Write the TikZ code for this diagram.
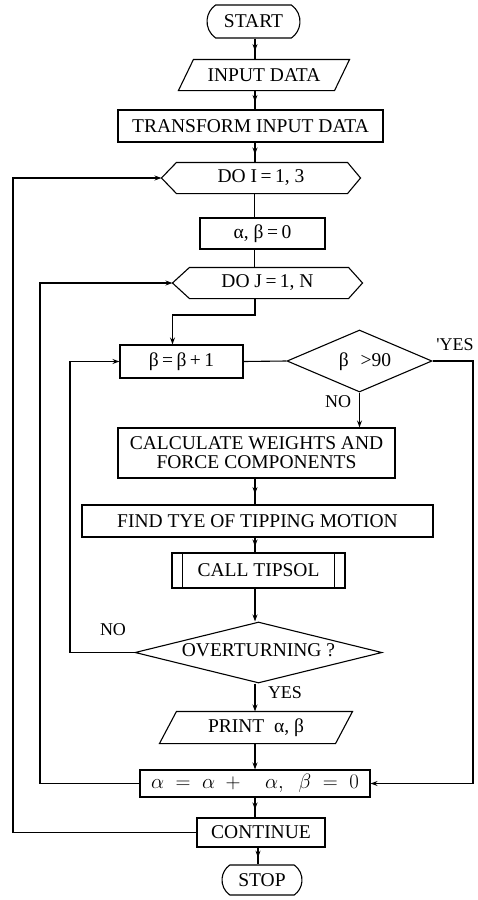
\documentclass[tikz,border=0pt]{standalone}
\usepackage{fontspec}
\setmainfont{Liberation Serif}
\usetikzlibrary{shapes.geometric,shapes.misc,arrows.meta,decorations.markings}
\begin{document}
\begin{tikzpicture}[x=1pt,y=-1pt,
  line width=1.1pt,
  font=\fontsize{19.5}{21}\selectfont,
  base/.style={inner sep=0pt, align=center},
  boxnode/.style={base, draw, rectangle},
  textonly/.style={base, rectangle},
  term/.style={base, draw, rounded rectangle, rounded rectangle arc length=110},
  dia/.style={base, draw, diamond},
  lbl/.style={font=\fontsize{18}{20}\selectfont, inner sep=0pt},
  tip/.style={-{Stealth[length=7pt,width=5pt]}},
  midtip/.style={postaction={decorate}, decoration={markings,
      mark=at position 0.6 with {\arrow{Stealth[length=7pt,width=5pt]}}}}
]
\useasboundingbox (0,0) rectangle (478,900);
\coordinate (ax) at (255,0);

% nodes
\node[term, minimum width=93pt, minimum height=33pt] (start) at (253.5,21.5) {START};
\node[textonly, minimum width=155pt, minimum height=30pt] (input) at (264,75) {INPUT DATA};
\draw ([xshift=-7.5pt]input.south west) -- ([xshift=7.5pt]input.north west)
  -- ([xshift=7.5pt]input.north east) -- ([xshift=-7.5pt]input.south east) -- cycle;
\node[boxnode, minimum width=265pt, minimum height=32pt] (trans) at (250.5,126) {TRANSFORM INPUT DATA};
\node[textonly, minimum width=198pt, minimum height=30pt] (doi) at (261,178) {DO I$\,$=$\,$1, 3};
\draw (doi.west) -- ([xshift=15pt]doi.north west) -- ([xshift=-13pt]doi.north east)
  -- (doi.east) -- ([xshift=-13pt]doi.south east) -- ([xshift=15pt]doi.south west) -- cycle;
\node[boxnode, minimum width=125pt, minimum height=31pt] (ab0) at (262.5,233.5) {α, β$\,$=$\,$0};
\node[textonly, minimum width=189pt, minimum height=30pt] (doj) at (267.5,283) {DO J$\,$=$\,$1, N};
\draw (doj.west) -- ([xshift=17pt]doj.north west) -- ([xshift=-14pt]doj.north east)
  -- (doj.east) -- ([xshift=-14pt]doj.south east) -- ([xshift=17pt]doj.south west) -- cycle;
\node[boxnode, minimum width=123pt, minimum height=33pt] (beta) at (181.5,361.5) {β$\,$=$\,$β$\,$+$\,$1};
\node[dia, minimum width=145pt, minimum height=62pt] (d1) at (359.5,361) {};
\node[textonly] at (365,362) {β\hspace{0.6em}>90};
\node[boxnode, minimum width=277pt, minimum height=50pt] (calc) at (256.5,453)
  {CALCULATE WEIGHTS AND\\[-2pt] FORCE COMPONENTS};
\node[boxnode, minimum width=351pt, minimum height=32pt] (find) at (257.5,521) {FIND TYE OF TIPPING MOTION};
\node[boxnode, minimum width=173pt, minimum height=35pt] (call) at (258.5,570.5) {CALL TIPSOL};
\draw ([xshift=11pt]call.north west) -- ([xshift=11pt]call.south west);
\draw ([xshift=-11pt]call.north east) -- ([xshift=-11pt]call.south east);
\node[dia, minimum width=247pt, minimum height=61pt] (d2) at (258.5,652.5) {};
\node[textonly] at (258.5,650) {OVERTURNING ?};
\node[textonly, minimum width=175pt, minimum height=31pt] (print) at (256,727.5) {PRINT \ α, β};
\draw ([xshift=-8.5pt]print.south west) -- ([xshift=8.5pt]print.north west)
  -- ([xshift=8.5pt]print.north east) -- ([xshift=-8.5pt]print.south east) -- cycle;
\node[boxnode, minimum width=230pt, minimum height=27pt, font=\fontsize{20}{22}\selectfont] (alpha) at (255,783.5)
  {$\alpha\;=\;\alpha\;+\quad\alpha,\;\;\beta\;=\;0$};
\node[boxnode, minimum width=128pt, minimum height=29pt] (cont) at (261,832.5) {CONTINUE};
\node[term, minimum width=80pt, minimum height=30pt] (stop) at (262,880) {STOP};

% labels
\node[lbl] at (455,345) {\textquotesingle YES};
\node[lbl] at (338,402) {NO};
\node[lbl] at (113,630) {NO};
\node[lbl] at (285,693) {YES};

% helper coordinates
\coordinate (jb) at (255,315);
\coordinate (rr) at (473,783.5);
\coordinate (nl) at (70,361.5);
\coordinate (al) at (40,283);
\coordinate (cl) at (13,178);

% connectors
\draw[midtip] (start.south -| ax) -- (input.north -| ax);
\draw[midtip] (input.south -| ax) -- (trans.north -| ax);
\draw[midtip] (trans.south -| ax) -- (doi.north -| ax);
\draw ([xshift=-8pt]doi.south -| ab0.north) -- ([xshift=-8pt]ab0.north);
\draw ([xshift=-8pt]ab0.south) -- ([xshift=-8pt]ab0.south |- doj.north);
\draw[tip] (doj.south -| jb) -- (jb) -| ([xshift=-9pt]beta.north);
\draw (beta.east) -- (d1.west);
\draw[tip] (d1.east) -| (rr) -- (alpha.east);
\draw[tip] (d1.south) -- (d1.south |- calc.north);
\draw[midtip] (calc.south -| ax) -- (find.north -| ax);
\draw[midtip] (find.south -| ax) -- (call.north -| ax);
\draw[tip] (call.south -| ax) -- (d2.north -| ax);
\draw[tip] (d2.south -| ax) -- (print.north -| ax);
\draw[tip] (print.south -| ax) -- (alpha.north -| ax);
\draw[midtip] (alpha.south -| ax) -- (cont.north -| ax);
\draw[midtip] ([xshift=3pt]cont.south -| ax) -- ([xshift=3pt]stop.north -| ax);
\draw[tip] (d2.west) -| (nl) -- (beta.west);
\draw[tip] (alpha.west) -| (al) -- (doj.west);
\draw[tip] (cont.west) -| (cl) -- (doi.west);
\end{tikzpicture}
\end{document}
